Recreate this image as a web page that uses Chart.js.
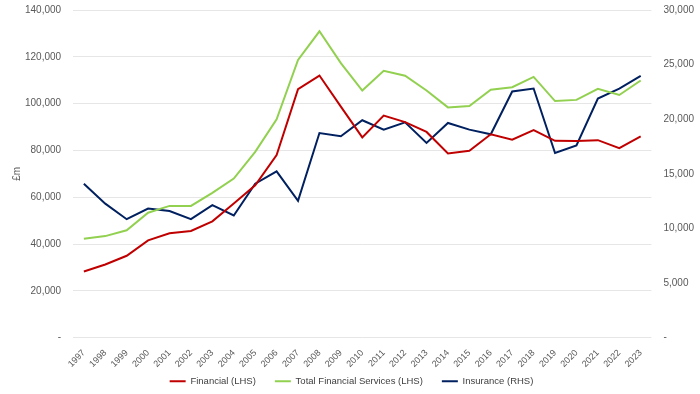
<!DOCTYPE html>
<html>
<head>
<meta charset="utf-8">
<script src="https://cdn.jsdelivr.net/npm/chart.js@4"></script>
<style>
  html, body { margin: 0; padding: 0; background: #fff; }
  #wrap { width: 700px; height: 394px; }
</style>
</head>
<body>
<div id="wrap"><canvas id="chart"></canvas></div>
<script>
const years = ['1997','1998','1999','2000','2001','2002','2003','2004','2005','2006','2007','2008','2009','2010',
  '2011','2012','2013','2014','2015','2016','2017','2018','2019','2020','2021','2022','2023'];

const financial = [28300, 31300, 35000, 41600, 44600, 45600, 49700, 57300, 65100, 78000, 106200, 112000, 98700, 85600,
  94900, 92100, 87900, 78700, 79900, 86900, 84600, 88700, 84100, 84000, 84400, 81000, 86000];

const totalFS = [42300, 43400, 45900, 53400, 56300, 56300, 61900, 68000, 79400, 93300, 118700, 130900, 117300, 105600,
  114000, 111900, 105600, 98400, 99000, 105900, 107000, 111400, 101100, 101600, 106300, 103700, 109900];

const insurance = [14100, 12270, 10850, 11830, 11590, 10850, 12140, 11190, 14100, 15230, 12540, 18740, 18440, 19910,
  19050, 19720, 17830, 19660, 19050, 18620, 22540, 22810, 16910, 17610, 21900, 22810, 23970];

const tickColor = '#595959';
const font = { family: 'Liberation Sans, Arial', size: 10 };
const fmt = v => v === 0 ? '-' : v.toLocaleString('en-GB');

// pull the legend up, close under the axis labels
const legendShift = {
  id: 'legendShift',
  beforeDraw(chart) {
    const lg = chart.legend;
    if (lg && !lg._shifted) {
      const orig = lg.draw;
      lg.draw = function (area) {
        chart.ctx.save();
        chart.ctx.translate(0, -16);
        orig.call(this, area);
        chart.ctx.restore();
      };
      lg._shifted = true;
    }
  }
};

const data = {
  labels: years,
  datasets: [{
    label: 'Financial (LHS)',
    data: financial,
    borderColor: '#C00000',
    backgroundColor: '#C00000',
    borderWidth: 2,
    pointRadius: 0,
    yAxisID: 'y'
  }, {
    label: 'Total Financial Services (LHS)',
    data: totalFS,
    borderColor: '#92D050',
    backgroundColor: '#92D050',
    borderWidth: 2,
    pointRadius: 0,
    yAxisID: 'y'
  }, {
    label: 'Insurance (RHS)',
    data: insurance,
    borderColor: '#002060',
    backgroundColor: '#002060',
    borderWidth: 2,
    pointRadius: 0,
    yAxisID: 'y1'
  }]
};

const config = {
  type: 'line',
  data: data,
  options: {
    responsive: true,
    maintainAspectRatio: false,
    animation: false,
    layout: {
      padding: { top: 10, bottom: -18, left: 9, right: 6 }
    },
    plugins: {
      legend: {
        display: true,
        position: 'bottom',
        labels: {
          usePointStyle: true,
          pointStyle: 'line',
          pointStyleWidth: 16,
          color: '#404040',
          font: { family: 'Liberation Sans, Arial', size: 9.5 },
          padding: 19
        }
      },
      tooltip: { enabled: false }
    },
    scales: {
      x: {
        offset: true,
        grid: { display: false, drawTicks: false },
        border: { display: false },
        ticks: {
          color: tickColor,
          font: { family: 'Liberation Sans, Arial', size: 9 },
          padding: 10,
          minRotation: 45,
          maxRotation: 45,
          autoSkip: false
        },
        afterFit(scale) {
          scale.paddingLeft = 0;
          scale.paddingRight = 0;
          scale.height -= 6;
        }
      },
      y: {
        position: 'left',
        min: 0,
        max: 140000,
        grid: { color: '#e6e6e6', drawTicks: false },
        border: { display: false },
        title: {
          display: true,
          text: '£m',
          color: tickColor,
          font: font,
          padding: 2
        },
        ticks: {
          stepSize: 20000,
          color: tickColor,
          padding: 12,
          font: font,
          callback: fmt
        },
        afterFit(scale) {
          scale.paddingTop = 0;
          scale.width -= 12;
        }
      },
      y1: {
        position: 'right',
        min: 0,
        max: 30000,
        grid: { display: false, drawTicks: false },
        border: { display: false },
        ticks: {
          stepSize: 5000,
          color: tickColor,
          padding: 12,
          font: font,
          callback: fmt
        },
        afterFit(scale) {
          scale.paddingTop = 0;
          scale.width -= 12;
        }
      }
    }
  },
  plugins: [legendShift]
};

const lineChart = new Chart(document.getElementById('chart'), config);
</script>
</body>
</html>
